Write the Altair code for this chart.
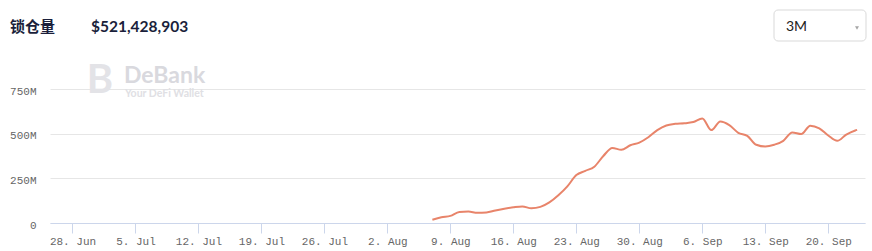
import altair as alt
import pandas as pd

# ---- data ----
dates = pd.date_range("2021-08-07", "2021-09-23", freq="D").strftime("%Y-%m-%dT00:00:00").tolist()
values_m = [
    18, 32, 40, 62, 64, 57, 59, 70, 80, 88,
    93, 82, 90, 115, 155, 205, 268, 292, 315, 375,
    420, 410, 435, 450, 480, 520, 546, 555, 558, 565,
    585, 520, 568, 548, 505, 488, 438, 428, 438, 460,
    507, 498, 545, 530, 490, 460, 495, 518,
]
dates.append("2021-09-23T05:00:00")
values_m.append(521.428903)

tick_dates = ["2021-06-28", "2021-07-05", "2021-07-12", "2021-07-19", "2021-07-26",
              "2021-08-02", "2021-08-09", "2021-08-16", "2021-08-23", "2021-08-30",
              "2021-09-06", "2021-09-13", "2021-09-20"]
y_ticks = [0, 250e6, 500e6, 750e6]

df = pd.DataFrame({"date": dates, "tvl": [v * 1e6 for v in values_m]})

tick_vals = []
for d in tick_dates:
    y, m, dd = (int(p) for p in d.split("-"))
    tick_vals.append(alt.DateTime(year=y, month=m, date=dd))

W, H = 815, 134
PL, PT = 50, 89
MONO = "Courier New, Liberation Mono, monospace"

x_enc = alt.X(
    "date:T",
    scale=alt.Scale(domain=[alt.DateTime(year=2021, month=6, date=25, hours=12),
                            alt.DateTime(year=2021, month=9, date=24, hours=2)]),
    axis=alt.Axis(values=tick_vals, format="%-d. %b", title=None, grid=False,
                  labelFont=MONO, labelFontSize=11, labelColor="#666666",
                  tickColor="#ccd6eb", tickSize=10, domainColor="#ccd6eb",
                  labelPadding=2, labelFlush=False),
)
y_enc = alt.Y(
    "tvl:Q",
    scale=alt.Scale(domain=[0, 750e6], nice=False),
    axis=alt.Axis(values=y_ticks, title=None, domain=False, ticks=False,
                  labelExpr="datum.value == 0 ? '0' : (datum.value / 1000000) + 'M'",
                  labelFont=MONO, labelFontSize=11, labelColor="#666666",
                  labelPadding=14, labelOffset=2,
                  gridColor="#e6e6e6"),
)

line = alt.Chart(df).mark_line(color="#e8846a", strokeWidth=2, interpolate="monotone").encode(
    x=x_enc, y=y_enc
)

one = pd.DataFrame({"a": [0]})


def txt(s, x, y, baseline="middle", **kw):
    return alt.Chart(one).mark_text(text=s, align="left", baseline=baseline, **kw).encode(
        x=alt.value(x - PL), y=alt.value(y - PT)
    )


title = txt("锁仓量", 10, 27, font="Noto Sans CJK SC", fontSize=15, fontWeight="bold", color="#1b1f3b")
amount = txt("$521,428,903", 91, 27, font="Lato", fontSize=15.5, fontWeight="bold", color="#1b1f3b")

box = alt.Chart(one).mark_rect(fill="white", stroke="#d9d9d9", strokeWidth=1, cornerRadius=4).encode(
    x=alt.value(774 - PL), x2=alt.value(866 - PL), y=alt.value(10 - PT), y2=alt.value(41 - PT)
)
box_text = txt("3M", 786, 27, font="Lato", fontSize=14, color="#222222")
caret = alt.Chart(one).mark_point(shape="triangle-down", filled=True, color="#a6a6a6", size=16, opacity=1).encode(
    x=alt.value(857 - PL), y=alt.value(28 - PT)
)

logo = alt.Chart(one).mark_text(text="B", align="center", baseline="middle", font="Lato",
                                fontSize=40, fontWeight="bold", color="#e3e3e7").encode(
    x=alt.value(100 - PL), y=alt.value(81 - PT)
)
wm1 = txt("DeBank", 124, 83, baseline="alphabetic", font="Lato", fontSize=23, fontWeight="bold", color="#d9d9de")
wm2 = txt("Your DeFi Wallet", 125, 97, baseline="alphabetic", font="Lato", fontSize=10.5, fontWeight="bold", color="#e0e0e4")

chart = alt.layer(
    logo, wm1, wm2, line, title, amount, box, box_text, caret
).properties(
    width=W, height=H,
    autosize=alt.AutoSizeParams(type="none"),
    padding={"left": PL, "top": PT, "right": 872 - PL - W, "bottom": 251 - PT - H},
).configure_view(stroke=None)

chart.save("out.html", embed_options={"renderer": "svg", "actions": False})
